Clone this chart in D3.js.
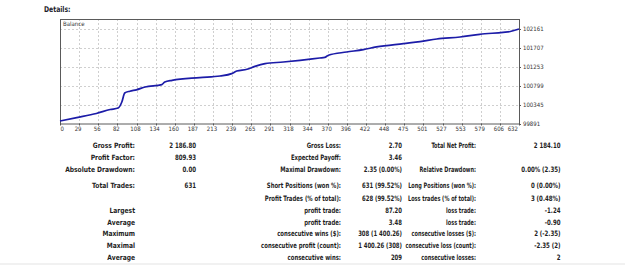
<!DOCTYPE html>
<html>
<head>
<meta charset="utf-8">
<script src="https://cdn.jsdelivr.net/npm/d3@7"></script>
<style>
  html, body { margin: 0; padding: 0; background: #fff; }
  svg { display: block; }
</style>
</head>
<body>
<div id="chart"></div>
<script>
// --------------------------------------
// Data
// --------------------------------------

const tradeIdx = [0, 23, 50, 69, 80, 85, 89, 96, 105, 117, 140, 144, 154, 192, 220, 236, 243, 257, 268, 282, 307, 330, 357, 364, 369, 394, 417, 435, 472, 495, 518, 550, 577, 609, 619, 631];
const balance = [99951, 100032, 100130, 100225, 100261, 100405, 100620, 100663, 100696, 100763, 100820, 100882, 100923, 100988, 101026, 101083, 101145, 101186, 101257, 101322, 101360, 101401, 101456, 101470, 101523, 101599, 101656, 101720, 101800, 101848, 101910, 101958, 102022, 102070, 102089, 102149];

const xTickLabels = ["0", "29", "56", "82", "108", "134", "160", "187", "213", "239", "265", "291", "318", "344", "370", "396", "422", "448", "475", "501", "527", "553", "579", "606", "632"];
const yTicks = [99891, 100345, 100799, 101253, 101707, 102161];

const col1 = ["Gross Profit:", "Profit Factor:", "Absolute Drawdown:", "Total Trades:", "", "Largest", "Average", "Maximum", "Maximal", "Average"];
const col2 = ["2 186.80", "809.93", "0.00", "631", "", "", "", "", "", ""];
const col3 = ["Gross Loss:", "Expected Payoff:", "Maximal Drawdown:", "Short Positions (won %):", "Profit Trades (% of total):", "profit trade:", "profit trade:", "consecutive wins ($):", "consecutive profit (count):", "consecutive wins:"];
const col4 = ["2.70", "3.46", "2.35 (0.00%)", "631 (99.52%)", "628 (99.52%)", "87.20", "3.48", "308 (1 400.26)", "1 400.26 (308)", "209"];
const col5 = ["Total Net Profit:", "", "Relative Drawdown:", "Long Positions (won %):", "Loss trades (% of total):", "loss trade:", "loss trade:", "consecutive losses ($):", "consecutive loss (count):", "consecutive losses:"];
const col6 = ["2 184.10", "", "0.00% (2.35)", "0 (0.00%)", "3 (0.48%)", "-1.24", "-0.90", "2 (-2.35)", "-2.35 (2)", "2"];

// --------------------------------------
// Canvas
// --------------------------------------

const width = 625, height = 274;
const frame = { left: 60, top: 19, right: 519, bottom: 123.5 };
const font = "'DejaVu Sans Condensed', 'DejaVu Sans', sans-serif";

const svg = d3.select("#chart")
  .append("svg")
    .attr("width", width)
    .attr("height", height)
    .attr("viewBox", [0, 0, width, height]);

svg.append("text")
  .attr("transform", "translate(44,12) scale(0.85,1)")
  .attr("font-family", font)
  .attr("font-weight", "bold")
  .attr("font-size", 8)
  .attr("fill", "#1b1b2b")
  .text("Details:");

// --------------------------------------
// Scales
// --------------------------------------

const x = d3.scaleLinear([0, 631], [frame.left, frame.right]);
const xTicks = d3.scalePoint(xTickLabels, [frame.left, frame.right]);
const y = d3.scaleLinear([99891, 102161], [123.5, 28.5]);

// --------------------------------------
// Grid and frame
// --------------------------------------

const grid = svg.append("g")
  .attr("stroke", "#cfcfcf")
  .attr("stroke-dasharray", "2,2")
  .attr("stroke-width", 1);

grid.selectAll("line.v")
  .data(xTickLabels.slice(1, -1))
  .join("line")
    .attr("class", "v")
    .attr("x1", d => Math.round(xTicks(d)) + 0.5)
    .attr("x2", d => Math.round(xTicks(d)) + 0.5)
    .attr("y1", frame.top)
    .attr("y2", frame.bottom);

grid.selectAll("line.h")
  .data(yTicks.slice(1))
  .join("line")
    .attr("class", "h")
    .attr("x1", frame.left)
    .attr("x2", frame.right)
    .attr("y1", d => Math.round(y(d)) + 0.5)
    .attr("y2", d => Math.round(y(d)) + 0.5);

svg.append("rect")
  .attr("x", frame.left + 0.5)
  .attr("y", frame.top + 0.5)
  .attr("width", frame.right - frame.left)
  .attr("height", frame.bottom - frame.top)
  .attr("fill", "none")
  .attr("stroke", "#5a5a5a")
  .attr("stroke-width", 1);

svg.append("text")
  .attr("x", frame.left + 3)
  .attr("y", frame.top + 7)
  .attr("font-family", font)
  .attr("font-size", 6)
  .attr("fill", "#333")
  .text("Balance");

// --------------------------------------
// Axes
// --------------------------------------

const xAxis = svg.append("g")
  .attr("font-family", font)
  .attr("font-size", 6)
  .attr("fill", "#333");

xAxis.selectAll("line")
  .data(xTickLabels)
  .join("line")
    .attr("x1", d => Math.round(xTicks(d)) + 0.5)
    .attr("x2", d => Math.round(xTicks(d)) + 0.5)
    .attr("y1", frame.bottom)
    .attr("y2", frame.bottom + 2)
    .attr("stroke", "#555");

xAxis.selectAll("text")
  .data(xTickLabels)
  .join("text")
    .attr("x", (d, i) => i === 0 ? frame.left + 0.5 : i === xTickLabels.length - 1 ? frame.right - 1 : xTicks(d) - 1)
    .attr("y", 130.5)
    .attr("text-anchor", (d, i) => i === 0 ? "start" : i === xTickLabels.length - 1 ? "end" : "middle")
    .text(d => d);

const yAxis = svg.append("g")
  .attr("font-family", font)
  .attr("font-size", 6)
  .attr("fill", "#333");

yAxis.selectAll("line")
  .data(yTicks)
  .join("line")
    .attr("x1", frame.right)
    .attr("x2", frame.right + 2)
    .attr("y1", d => Math.round(y(d)) + 0.5)
    .attr("y2", d => Math.round(y(d)) + 0.5)
    .attr("stroke", "#555");

yAxis.selectAll("text")
  .data(yTicks)
  .join("text")
    .attr("x", frame.right + 4)
    .attr("y", (d, i) => y(d) + (i === 0 ? 0.5 : 0) + 2)
    .text(d => d);

// --------------------------------------
// Line
// --------------------------------------

const line = d3.line()
  .x(d => x(d[0]))
  .y(d => y(d[1]))
  .curve(d3.curveMonotoneX);

svg.append("path")
  .datum(d3.zip(tradeIdx, balance))
  .attr("d", line)
  .attr("fill", "none")
  .attr("stroke", "#1c1ca8")
  .attr("stroke-width", 1.7);

// --------------------------------------
// Details table
// --------------------------------------

const rowY = [145, 157, 169, 185.7, 198, 210.3, 221.8, 233.5, 245.5, 257.2];
// squeeze k: the original font is narrower than ours
const columns = [
  { values: col1, x: 135, k: 0.9 },
  { values: col2, x: 196, k: 0.82 },
  { values: col3, x: 341, k: 0.8 },
  { values: col4, x: 402, k: 0.8 },
  { values: col5, x: 476, k: 0.75 },
  { values: col6, x: 560.5, k: 0.82 }
];

const table = svg.append("g")
  .attr("font-family", font)
  .attr("font-weight", "bold")
  .attr("font-size", 7.4)
  .attr("fill", "#1e1e1e")
  .attr("text-anchor", "end");

columns.forEach(col => {
  table.append("g")
    .selectAll("text")
    .data(col.values)
    .join("text")
      .attr("transform", (d, i) => `translate(${col.x},${rowY[i] + 2.7}) scale(${col.k},1)`)
      .text(d => d);
});

svg.append("line")
  .attr("x1", 0)
  .attr("x2", width)
  .attr("y1", 264)
  .attr("y2", 264)
  .attr("stroke", "#ececec")
  .attr("stroke-width", 1.5);
</script>
</body>
</html>
